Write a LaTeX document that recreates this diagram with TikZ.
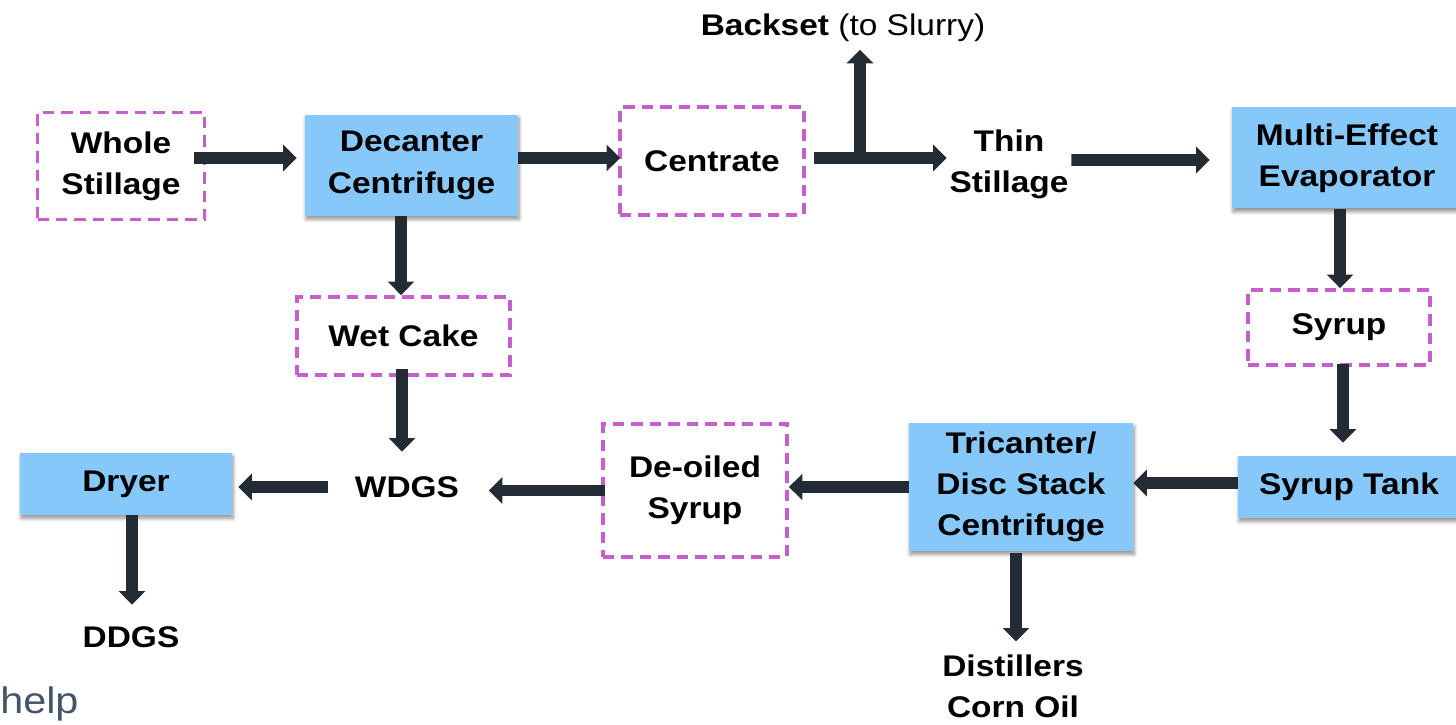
\documentclass[tikz,border=0pt]{standalone}
\usepackage{fontspec}
\setmainfont{Liberation Sans}[FakeStretch=1.12]
\usetikzlibrary{arrows.meta,shadows.blur}
\definecolor{unitblue}{HTML}{87C8FB}
\definecolor{streampink}{HTML}{C45FCB}
\definecolor{flowdark}{HTML}{232C35}
\definecolor{helpgray}{HTML}{44546A}
\newcommand{\flowfont}{\fontsize{17}{23.5}\selectfont}
\tikzset{
  unit/.style={fill=unitblue, draw=none, align=center, font=\flowfont\bfseries,
    blur shadow={shadow xshift=0.6pt, shadow yshift=-1.8pt, shadow blur steps=6, shadow opacity=45}},
  stream/.style={draw=streampink, line width=2.2pt, dash pattern=on 6.5pt off 4pt,
    align=center, font=\flowfont\bfseries},
  lbl/.style={align=center, font=\flowfont\bfseries, inner sep=0.05cm},
  flow/.style={draw=flowdark, line width=6.8pt, -{Triangle[length=0.27cm,width=0.52cm]}},
}

\begin{document}
\begin{tikzpicture}
\useasboundingbox (0,0) rectangle (29.12,-14.5);
% top row
\node[stream, minimum width=3.34cm, minimum height=2.14cm] (ws) at (2.42,-3.32) {Whole\\Stillage};
\node[unit, minimum width=4.26cm, minimum height=2.02cm] (dc) at (8.23,-3.31) {Decanter\\Centrifuge};
\node[stream, minimum width=3.68cm, minimum height=2.16cm] (cn) at (14.24,-3.22) {Centrate};
\node[lbl, font=\flowfont] (bs) at (16.86,-0.56) {\textbf{Backset} (to Slurry)};
\node[lbl] (ts) at (20.18,-3.28) {Thin\\Stillage};
\node[unit, minimum width=4.6cm, minimum height=2.02cm] (ev) at (26.94,-3.16) {Multi-Effect\\Evaporator};
% right column
\node[stream, minimum width=3.64cm, minimum height=1.5cm] (sy) at (26.78,-6.55) {Syrup};
\node[unit, minimum width=4.44cm, minimum height=1.24cm] (tk) at (26.98,-9.74) {Syrup Tank};
% bottom row
\node[unit, minimum width=4.48cm, minimum height=2.56cm] (tc) at (20.42,-9.74) {Tricanter/\\Disc Stack\\Centrifuge};
\node[lbl] (co) at (20.26,-13.72) {Distillers\\Corn Oil};
\node[stream, minimum width=3.68cm, minimum height=2.66cm] (do) at (13.9,-9.81) {De-oiled\\Syrup};
\node[stream, minimum width=4.26cm, minimum height=1.56cm] (wc) at (8.07,-6.72) {Wet Cake};
\node[lbl] (wd) at (8.14,-9.74) {WDGS};
\node[unit, minimum width=4.24cm, minimum height=1.24cm] (dr) at (2.52,-9.68) {Dryer};
\node[lbl] (dg) at (2.62,-12.74) {DDGS};
\node[anchor=base west, inner sep=0, text=helpgray, font=\fontsize{21}{25}\selectfont] (hp) at (0,-14.26) {help};
% connectors along the top
\draw[flow] ([xshift=-0.24cm,yshift=0.16cm]ws.east) -- ([xshift=-0.16cm,yshift=0.15cm]dc.west);
\draw[flow] ([yshift=0.15cm]dc.east) -- ([xshift=0.04cm,yshift=0.06cm]cn.west);
\draw[flow] ([xshift=0.16cm,yshift=0.06cm]cn.east) -- ([yshift=0.12cm]ts.west);
\coordinate (tee) at (17.2,-3.22);
\draw[flow, shorten >=0.1cm] (tee) -- (tee |- bs.south);
\draw[flow] ([yshift=0.08cm]ts.east) -- ([xshift=-0.44cm,yshift=-0.04cm]ev.west);
% right side down
\draw[flow] ([xshift=-0.14cm]ev.south) -- ([xshift=-0.14cm]ev.south |- sy.north);
\draw[flow, shorten <=-0.06cm, shorten >=0.26cm] ([xshift=0.08cm]sy.south) -- ([xshift=0.08cm]sy.south |- tk.north);
% bottom row back to the left
\draw[flow] ([yshift=0.08cm]tk.west) -- ([yshift=0.08cm]tk.west -| tc.east);
\draw[flow] (tc.west) -- (tc.west -| do.east);
\draw[flow, shorten <=-0.08cm, shorten >=0.54cm] (do.west) -- (do.west -| wd.east);
\draw[flow, shorten <=0.48cm, shorten >=0.12cm] (wd.west) -- (wd.west -| dr.east);
% drops
\draw[flow] ([xshift=-0.21cm]dc.south) -- ([xshift=-0.21cm]dc.south |- wc.north);
\draw[flow, shorten <=-0.16cm, shorten >=0.44cm] ([xshift=-0.03cm]wc.south) -- ([xshift=-0.03cm]wc.south |- wd.north);
\draw[flow, shorten >=0.38cm] ([xshift=0.12cm]dr.south) -- ([xshift=0.12cm]dr.south |- dg.north);
\draw[flow, shorten <=0.04cm, shorten >=0.2cm] ([xshift=-0.1cm]tc.south) -- ([xshift=-0.1cm]tc.south |- co.north);
\end{tikzpicture}
\end{document}
